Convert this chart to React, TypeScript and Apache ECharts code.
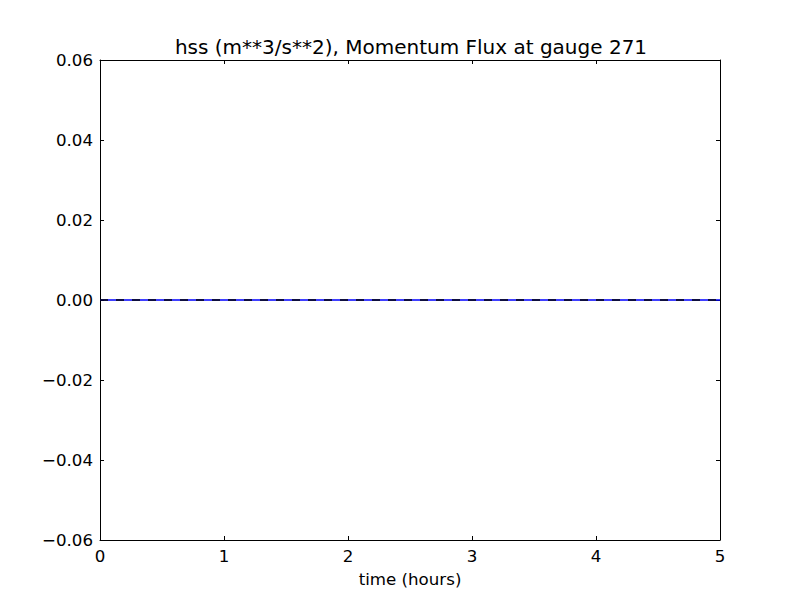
import React, { useEffect, useRef } from "react";
import * as echarts from "echarts";

const timeHours = [0, 0.5, 1, 1.5, 2, 2.5, 3, 3.5, 4, 4.5, 5];
const fluxSolid = [0, 0, 0, 0, 0, 0, 0, 0, 0, 0, 0];
const fluxDashed = [0, 0, 0, 0, 0, 0, 0, 0, 0, 0, 0];
const titleText = "hss (m**3/s**2), Momentum Flux at gauge 271";
const xLabel = "time (hours)";

const FONT = "DejaVu Sans";

export default function App() {
  const ref = useRef<HTMLDivElement>(null);
  useEffect(() => {
    if (!ref.current) return;
    const chart = echarts.init(ref.current, null, { renderer: "svg" });
    const axisLine = { show: true, onZero: false, lineStyle: { color: "#000", width: 1 } };
    const axisTick = { show: true, inside: true, length: 4, lineStyle: { color: "#000", width: 1 } };
    const label = { color: "#000", fontFamily: FONT, fontSize: 16.67 };
    const fmtY = (v: number) => {
      const s = v.toFixed(2);
      return s.replace("-", "\u2212");
    };
    chart.setOption({
      animation: false,
      backgroundColor: "#fff",
      grid: { left: 100, right: 80, top: 60, bottom: 60, containLabel: false },
      graphic: [
        {
          type: "text",
          x: 411,
          y: 47,
          style: {
            text: titleText,
            fill: "#000",
            font: `20px "${FONT}"`,
            textAlign: "center",
            textVerticalAlign: "middle",
          },
        },
      ],
      xAxis: [
        {
          type: "value",
          position: "bottom",
          min: 0,
          max: 5,
          interval: 1,
          name: xLabel,
          nameLocation: "middle",
          nameGap: 31,
          nameTextStyle: { color: "#000", fontFamily: FONT, fontSize: 16.67 },
          axisLine,
          axisTick,
          axisLabel: { ...label, margin: 8 },
          splitLine: { show: false },
        },
        {
          type: "value",
          position: "top",
          min: 0,
          max: 5,
          interval: 1,
          axisLine,
          axisTick,
          axisLabel: { show: false },
          splitLine: { show: false },
        },
      ],
      yAxis: [
        {
          type: "value",
          position: "left",
          min: -0.06,
          max: 0.06,
          interval: 0.02,
          axisLine,
          axisTick,
          axisLabel: { ...label, margin: 7, formatter: fmtY },
          splitLine: { show: false },
        },
        {
          type: "value",
          position: "right",
          min: -0.06,
          max: 0.06,
          interval: 0.02,
          axisLine,
          axisTick,
          axisLabel: { show: false },
          splitLine: { show: false },
        },
      ],
      series: [
        {
          type: "line",
          data: timeHours.map((t, i) => [t, fluxSolid[i]]),
          showSymbol: false,
          lineStyle: { color: "#0000ff", width: 1.4 },
          z: 2,
        },
        {
          type: "line",
          data: timeHours.map((t, i) => [t, fluxDashed[i]]),
          showSymbol: false,
          lineStyle: { color: "#000", width: 1.4, type: [8, 8] },
          z: 3,
        },
      ],
    });
    return () => chart.dispose();
  }, []);
  return (
    <div
      ref={ref}
      style={{ position: "fixed", left: 0, top: 0, width: 800, height: 600 }}
    />
  );
}
